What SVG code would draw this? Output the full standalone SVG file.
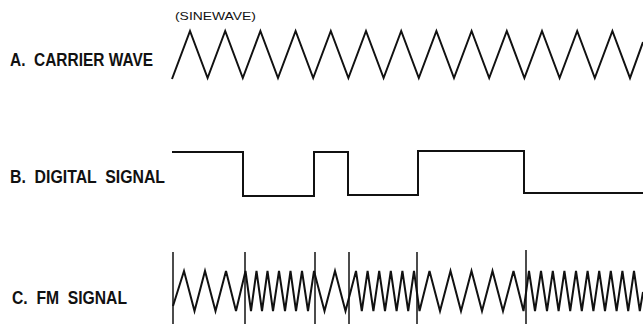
<svg xmlns="http://www.w3.org/2000/svg" width="643" height="326" viewBox="0 0 643 326">
<style>
.lbl{font-family:"Liberation Sans",Arial,sans-serif;font-weight:bold;font-size:18px;fill:#111;white-space:pre}
.note{font-family:"Liberation Sans",Arial,sans-serif;font-size:11px;fill:#111}
.sig{fill:none;stroke:#111;stroke-width:2;stroke-linejoin:miter}
.mk{stroke:#111;stroke-width:1.5}
</style>
<rect width="643" height="326" fill="#fff"/>
<g id="carrier">
<text class="note" x="175" y="20" textLength="81" lengthAdjust="spacingAndGlyphs">(SINEWAVE)</text>
<text class="lbl" xml:space="preserve" x="10" y="66" textLength="143" lengthAdjust="spacingAndGlyphs">A.  CARRIER WAVE</text>
<path class="sig" d="M172,79 L190,31 L207.6,78 L225.2,31 L242.8,78 L260.4,31 L278,78 L295.6,31 L313.2,78 L330.8,31 L348.4,78 L366,31 L383.6,78 L401.2,31 L418.8,78 L436.4,31 L454,78 L471.6,31 L489.2,78 L506.8,31 L524.4,78 L542,31 L559.6,78 L577.2,31 L594.8,78 L612.4,31 L630,78 L643,42"/>
</g>
<g id="digital">
<text class="lbl" xml:space="preserve" x="10" y="183" textLength="155" lengthAdjust="spacingAndGlyphs">B.  DIGITAL  SIGNAL</text>
<path class="sig" d="M172,152 L243,152 L243,196 L314,196 L314,152 L348,152 L348,195 L418,195 L418,151 L524,151 L524,193 L643,193"/>
</g>
<g id="fm">
<text class="lbl" xml:space="preserve" x="12" y="304" textLength="115" lengthAdjust="spacingAndGlyphs">C.  FM  SIGNAL</text>
<path class="sig" d="M173,306 L184,271 L194.5,311 L205,271 L215.5,311 L226,271 L236,311 L245.5,271 L251,311 L256.5,271 L262,311 L267.5,271 L273,311 L279,271 L285,311 L290.5,271 L296,311 L302,271 L308,311 L314,271 L324.5,311 L335,271 L345.5,311 L356,271 L361.8,311 L367.6,271 L373.4,311 L379.2,271 L385,311 L390.8,271 L396.6,311 L402.4,271 L408.2,311 L414,271 L419.5,311 L429.5,271 L440,311 L450.5,271 L461,311 L471.5,271 L482,311 L492.5,271 L503,311 L513.5,271 L523.5,311 L529,271 L535,311 L541,271 L547,311 L552.8,271 L558.6,311 L564.4,271 L570.2,311 L576,271 L581.8,311 L587.6,271 L593.4,311 L599.2,271 L605,311 L610.8,271 L616.6,311 L622.4,271 L628.2,311 L634,271 L639.8,311 L643,292"/>
</g>
<g id="connectors">
<line class="mk" x1="173" y1="252" x2="173" y2="324"/>
<line class="mk" x1="245" y1="252" x2="245" y2="324"/>
<line class="mk" x1="315" y1="252" x2="315" y2="324"/>
<line class="mk" x1="349" y1="252" x2="349" y2="324"/>
<line class="mk" x1="417" y1="252" x2="417" y2="324"/>
<line class="mk" x1="526" y1="250" x2="526" y2="324"/>
</g>
</svg>
